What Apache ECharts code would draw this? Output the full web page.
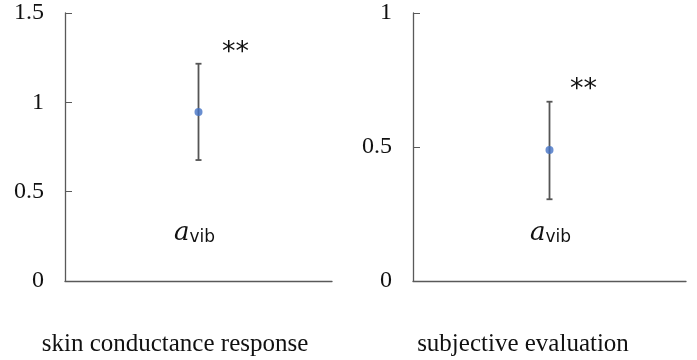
<!DOCTYPE html>
<html>
<head>
<meta charset="UTF-8">
<title>avib</title>
<script src="https://cdn.jsdelivr.net/npm/echarts@6/dist/echarts.min.js"></script>
<style>
  html, body { margin: 0; padding: 0; background: #fff; }
  #main { width: 697px; height: 360px; }
</style>
</head>
<body>
<div id="main"></div>
<script>
// data
var panels = ['skin conductance response', 'subjective evaluation'];
var means = [0.946, 0.489];
var lower = [0.677, 0.305];
var upper = [1.216, 0.669];
var yMax = [1.5, 1];
var yStep = [0.5, 0.5];

var chart = echarts.init(document.getElementById('main'));
var font = 'Liberation Serif, Times New Roman, serif';
var axisColor = '#595959';

var grids = [
  { left: 65, right: 365, top: 13, bottom: 79 },
  { left: 413, right: 11, top: 13, bottom: 79 }
];

var xAxes = [], yAxes = [], series = [];
panels.forEach(function (name, i) {
  xAxes.push({
    type: 'category', gridIndex: i, data: ['avib'],
    axisLine: { lineStyle: { color: axisColor, width: 1.3 } },
    axisTick: { show: false }, axisLabel: { show: false }
  });
  yAxes.push({
    type: 'value', gridIndex: i, min: 0, max: yMax[i], interval: yStep[i],
    axisLine: { show: true, lineStyle: { color: axisColor, width: 1.3 } },
    axisTick: { show: true, inside: true, length: 7, lineStyle: { color: axisColor } },
    splitLine: { show: false },
    axisLabel: { color: '#111', fontFamily: font, fontSize: 24, margin: 21 }
  });
  series.push({
    type: 'custom', xAxisIndex: i, yAxisIndex: i,
    data: [[0, lower[i], upper[i]]],
    renderItem: function (params, api) {
      var lo = api.coord([api.value(0), api.value(1)]);
      var hi = api.coord([api.value(0), api.value(2)]);
      var cap = 3;
      var st = { stroke: '#555', lineWidth: 1.8 };
      return {
        type: 'group',
        children: [
          { type: 'line', shape: { x1: lo[0], y1: lo[1], x2: hi[0], y2: hi[1] }, style: st },
          { type: 'line', shape: { x1: lo[0] - cap, y1: lo[1], x2: lo[0] + cap, y2: lo[1] }, style: st },
          { type: 'line', shape: { x1: hi[0] - cap, y1: hi[1], x2: hi[0] + cap, y2: hi[1] }, style: st }
        ]
      };
    },
    z: 2
  });
  series.push({
    type: 'scatter', xAxisIndex: i, yAxisIndex: i,
    data: [[0, means[i]]],
    symbolSize: 8,
    itemStyle: { color: '#4472C4' },
    z: 3
  });
});

function avib(x, y) {
  return {
    type: 'text', left: x, top: y,
    style: {
      text: '{a|a}{s|vib}',
      rich: {
        a: { fontFamily: 'DejaVu Serif', fontStyle: 'italic', fontSize: 26, fill: '#111', verticalAlign: 'bottom' },
        s: { fontFamily: 'DejaVu Sans', fontSize: 17, fill: '#111', padding: [10, 0, 0, 0] }
      }
    }
  };
}

function stars(x, y) {
  return { type: 'text', left: x, top: y, style: { text: '**', fontFamily: 'DejaVu Sans', fontSize: 27, fill: '#111', letterSpacing: 2 } };
}

chart.setOption({
  animation: false,
  backgroundColor: '#fff',
  grid: grids,
  xAxis: xAxes,
  yAxis: yAxes,
  series: series,
  graphic: [
    stars(222, 39),
    stars(570, 76),
    avib(174, 220),
    avib(530, 220),
    { type: 'text', x: 175, y: 344, style: { text: panels[0], fontFamily: font, fontSize: 25, fill: '#111', align: 'center', verticalAlign: 'middle' } },
    { type: 'text', x: 523, y: 344, style: { text: panels[1], fontFamily: font, fontSize: 25, fill: '#111', align: 'center', verticalAlign: 'middle' } }
  ]
});
</script>
</body>
</html>
